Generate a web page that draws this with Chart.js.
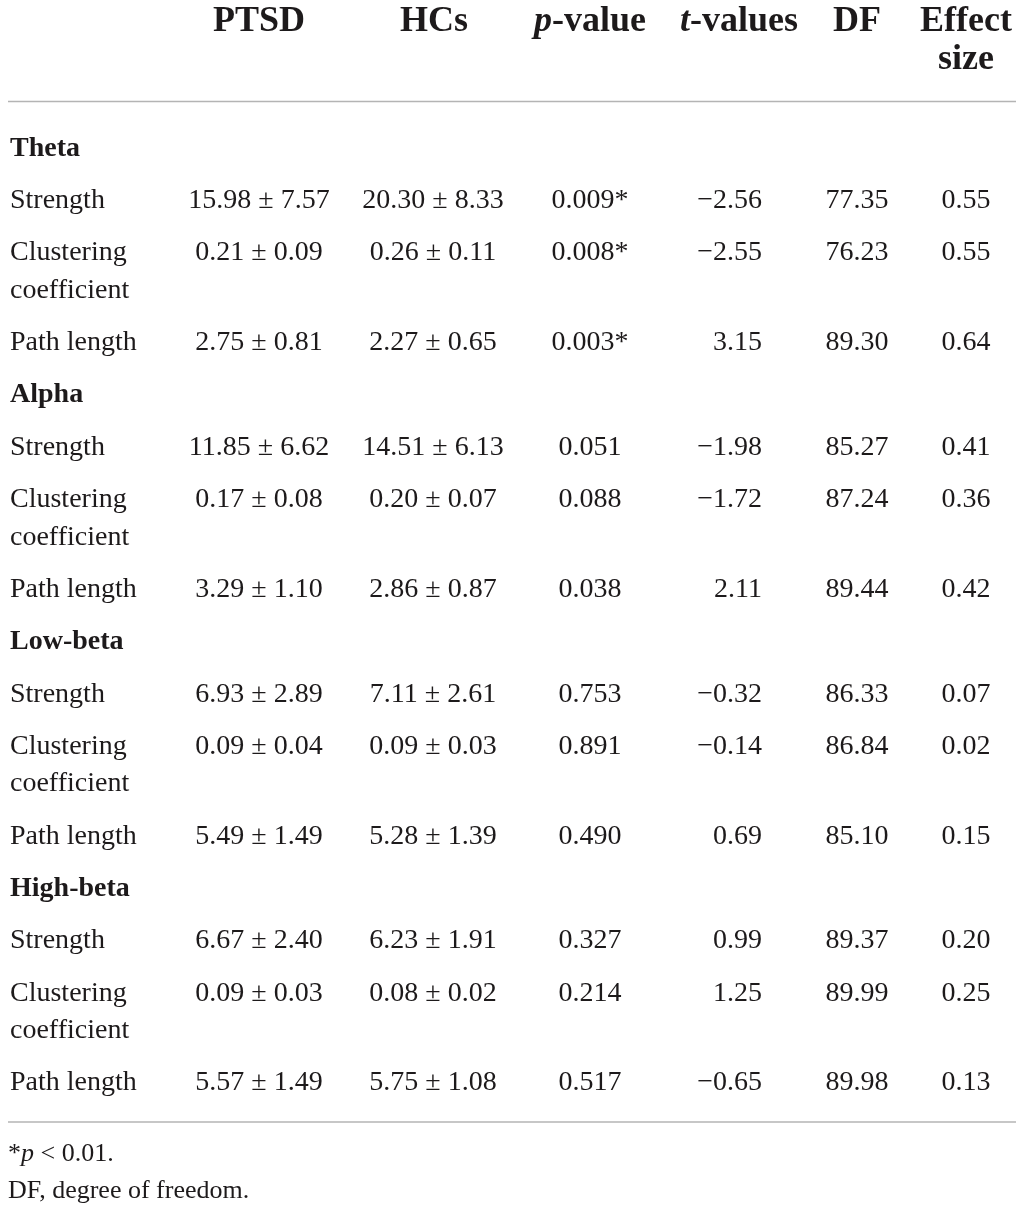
<!DOCTYPE html>
<html>
<head>
<meta charset="utf-8">
<script src="https://cdn.jsdelivr.net/npm/chart.js@4.4.1/dist/chart.umd.min.js"></script>
<style>
  html, body { margin: 0; padding: 0; background: #fff; }
  canvas { display: block; }
</style>
</head>
<body>
<canvas id="tableChart" width="1021" height="1211"></canvas>
<script>
// table values, row order: band x measure
const bands = ['Theta', 'Alpha', 'Low-beta', 'High-beta'];
const measures = ['Strength', 'Clustering coefficient', 'Path length'];
const ptsdMean = [15.98, 0.21, 2.75, 11.85, 0.17, 3.29, 6.93, 0.09, 5.49, 6.67, 0.09, 5.57];
const ptsdSd   = [7.57, 0.09, 0.81, 6.62, 0.08, 1.10, 2.89, 0.04, 1.49, 2.40, 0.03, 1.49];
const hcMean   = [20.30, 0.26, 2.27, 14.51, 0.20, 2.86, 7.11, 0.09, 5.28, 6.23, 0.08, 5.75];
const hcSd     = [8.33, 0.11, 0.65, 6.13, 0.07, 0.87, 2.61, 0.03, 1.39, 1.91, 0.02, 1.08];
const pValues  = [0.009, 0.008, 0.003, 0.051, 0.088, 0.038, 0.753, 0.891, 0.490, 0.327, 0.214, 0.517];
const tValues  = [-2.56, -2.55, 3.15, -1.98, -1.72, 2.11, -0.32, -0.14, 0.69, 0.99, 1.25, -0.65];
const dfValues = [77.35, 76.23, 89.30, 85.27, 87.24, 89.44, 86.33, 86.84, 85.10, 89.37, 89.99, 89.98];
const effectSizes = [0.55, 0.55, 0.64, 0.41, 0.36, 0.42, 0.07, 0.02, 0.15, 0.20, 0.25, 0.13];
const sigLevel = 0.01;

// layout
const W = 1021, H = 1211;
const SERIF = '"Liberation Serif", "DejaVu Serif", serif';
const INK = '#1d1a1b';
const RULE = '#b4b4b4';
const colX = [10, 259, 433, 590, 762, 857, 966];
const colAlign = ['left', 'center', 'center', 'center', 'right', 'center', 'center'];
const headX = [10, 259, 434, 590, 739, 857, 966];
const headerY = 21.5, headerStep = 38;
const ruleTop = 101.5, ruleBottom = 1122, ruleLeft = 8, ruleRight = 1016;
const firstRowY = 148.5, rowStep = 52.3, wrapStep = 37.5;
const footY = [1154, 1191];

const fonts = {
  r: '28px ' + SERIF,
  b: 'bold 28px ' + SERIF,
  hb: 'bold 36px ' + SERIF,
  hbi: 'italic bold 36px ' + SERIF,
  f: '26px ' + SERIF,
  fi: 'italic 26px ' + SERIF
};

function num(v, d) {
  const s = Math.abs(v).toFixed(d);
  return v < 0 ? '\u2212' + s : s;
}
const plain = (t, f) => [[{ t, f: f || 'r' }]];

// header cells, one per column
const headers = [
  [[{ t: '', f: 'hb' }]],
  [[{ t: 'PTSD', f: 'hb' }]],
  [[{ t: 'HCs', f: 'hb' }]],
  [[{ t: 'p', f: 'hbi' }, { t: '-value', f: 'hb' }]],
  [[{ t: 't', f: 'hbi' }, { t: '-values', f: 'hb' }]],
  [[{ t: 'DF', f: 'hb' }]],
  [[{ t: 'Effect', f: 'hb' }], [{ t: 'size', f: 'hb' }]]
];

// body cells
const cells = colX.map(() => []);
let y = firstRowY;
bands.forEach((band, b) => {
  cells[0].push({ y, lines: plain(band, 'b') });
  y += rowStep;
  measures.forEach((m, k) => {
    const i = b * measures.length + k;
    const label = m === 'Clustering coefficient'
      ? [[{ t: 'Clustering', f: 'r' }], [{ t: 'coefficient', f: 'r' }]]
      : plain(m);
    const p = [{ t: pValues[i].toFixed(3), f: 'r' }];
    if (pValues[i] < sigLevel) p.push({ t: '*', f: 'r' });
    cells[0].push({ y, lines: label });
    cells[1].push({ y, lines: plain(ptsdMean[i].toFixed(2) + ' \u00b1 ' + ptsdSd[i].toFixed(2)) });
    cells[2].push({ y, lines: plain(hcMean[i].toFixed(2) + ' \u00b1 ' + hcSd[i].toFixed(2)) });
    cells[3].push({ y, lines: [p] });
    cells[4].push({ y, lines: plain(num(tValues[i], 2)) });
    cells[5].push({ y, lines: plain(dfValues[i].toFixed(2)) });
    cells[6].push({ y, lines: plain(effectSizes[i].toFixed(2)) });
    y += rowStep + (label.length - 1) * wrapStep;
  });
});

const datasets = colX.map((cx, c) => ({
  label: 'col' + c,
  data: [{ x: headX[c], y: headerY, lines: headers[c], step: headerStep, align: 'center' }]
    .concat(cells[c].map(cell => ({ x: cx, y: cell.y, lines: cell.lines, step: wrapStep, align: colAlign[c] })))
}));

function drawRuns(ctx, runs, x, y, align) {
  let total = 0;
  runs.forEach(r => { ctx.font = fonts[r.f]; r.w = ctx.measureText(r.t).width; total += r.w; });
  let sx = align === 'left' ? x : align === 'right' ? x - total : x - total / 2;
  runs.forEach(r => {
    ctx.font = fonts[r.f];
    ctx.fillText(r.t, sx, y);
    sx += r.w;
  });
}

const tableText = {
  id: 'tableText',
  afterDatasetsDraw(chart) {
    const ctx = chart.ctx;
    const xs = chart.scales.x, ys = chart.scales.y;
    ctx.save();
    ctx.fillStyle = INK;
    ctx.textBaseline = 'middle';
    ctx.textAlign = 'left';
    chart.data.datasets.forEach((ds, d) => {
      chart.getDatasetMeta(d).data.forEach((pt, j) => {
        const raw = ds.data[j];
        const lineGap = ys.getPixelForValue(raw.step) - ys.getPixelForValue(0);
        raw.lines.forEach((runs, l) => drawRuns(ctx, runs, pt.x, pt.y + l * lineGap, raw.align));
      });
    });

    // horizontal rules
    ctx.strokeStyle = RULE;
    ctx.lineWidth = 1.5;
    [ruleTop, ruleBottom].forEach(v => {
      const py = ys.getPixelForValue(v);
      ctx.beginPath();
      ctx.moveTo(xs.getPixelForValue(ruleLeft), py);
      ctx.lineTo(xs.getPixelForValue(ruleRight), py);
      ctx.stroke();
    });

    // footnotes
    const fx = xs.getPixelForValue(8);
    drawRuns(ctx, [{ t: '*', f: 'f' }, { t: 'p', f: 'fi' }, { t: ' < ' + sigLevel.toFixed(2) + '.', f: 'f' }],
      fx, ys.getPixelForValue(footY[0]), 'left');
    drawRuns(ctx, [{ t: 'DF, degree of freedom.', f: 'f' }], fx, ys.getPixelForValue(footY[1]), 'left');
    ctx.restore();
  }
};

new Chart(document.getElementById('tableChart'), {
  type: 'scatter',
  data: { datasets },
  options: {
    responsive: false,
    animation: false,
    devicePixelRatio: 1,
    layout: { padding: 0 },
    elements: { point: { radius: 0, hoverRadius: 0 } },
    plugins: { legend: { display: false }, tooltip: { enabled: false } },
    events: [],
    scales: {
      x: { type: 'linear', min: 0, max: W, display: false },
      y: { type: 'linear', min: 0, max: H, reverse: true, display: false }
    }
  },
  plugins: [tableText]
});
</script>
</body>
</html>
